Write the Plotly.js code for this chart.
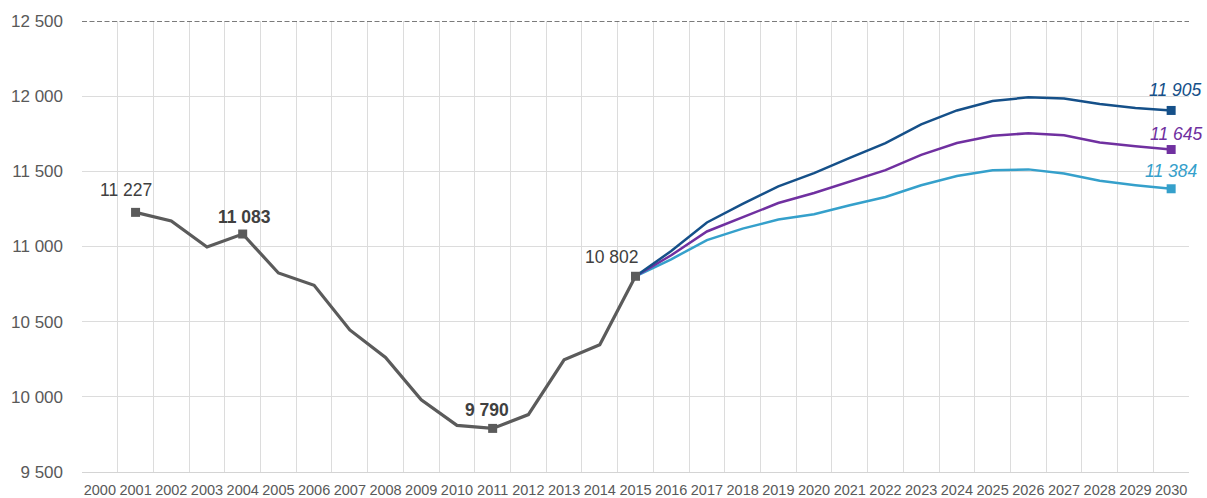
<!DOCTYPE html>
<html>
<head>
<meta charset="utf-8">
<script src="https://cdn.plot.ly/plotly-3.0.1.min.js"></script>
<style>
  html, body { margin: 0; padding: 0; background: #fff; }
  #chart { width: 1207px; height: 498px; }
</style>
</head>
<body>
<div id="chart"></div>
<script>
// Category axis: one band per year
const years = [2000, 2001, 2002, 2003, 2004, 2005, 2006, 2007, 2008, 2009, 2010,
               2011, 2012, 2013, 2014, 2015, 2016, 2017, 2018, 2019, 2020,
               2021, 2022, 2023, 2024, 2025, 2026, 2027, 2028, 2029, 2030];

// Observed values
const histYears = [2001, 2002, 2003, 2004, 2005, 2006, 2007, 2008, 2009, 2010,
                   2011, 2012, 2013, 2014, 2015];
const histValues = [11227, 11170, 10997, 11083, 10824, 10742, 10445, 10262, 9980, 9810,
                    9790, 9882, 10246, 10346, 10802];
// Years of the observed series that get a marker and a label
const histMarked = [2001, 2004, 2011, 2015];
const histBold = [2004, 2011];

// Projections 2015-2030
const projYears = [2015, 2016, 2017, 2018, 2019, 2020, 2021, 2022, 2023, 2024,
                   2025, 2026, 2027, 2028, 2029, 2030];
const projHigh = [10802, 10970, 11160, 11283, 11400, 11488, 11590, 11688, 11812, 11905,
                  11968, 11992, 11985, 11948, 11922, 11905];
const projMid  = [10802, 10942, 11100, 11196, 11289, 11356, 11430, 11508, 11610, 11688,
                  11737, 11753, 11740, 11692, 11667, 11645];
const projLow  = [10802, 10915, 11043, 11119, 11179, 11214, 11274, 11329, 11407, 11469,
                  11507, 11513, 11486, 11437, 11408, 11384];

// Value axis
const yMin = 9500, yMax = 12500, yStep = 500;

const colors = {
  hist: '#5b5b5b',
  high: '#155089',
  mid: '#7030a0',
  low: '#35a0cb'
};

const fontFamily = '"Liberation Sans", Arial, sans-serif';

function fmt(v) {
  return String(v).replace(/\B(?=(\d{3})+(?!\d))/g, ' ');
}

const markedValues = histMarked.map(y => histValues[histYears.indexOf(y)]);
const lastIdx = projYears.length - 1;

const traces = [
  { x: histYears, y: histValues, type: 'scatter', mode: 'lines',
    line: { color: colors.hist, width: 3.2 } },
  { x: projYears, y: projLow, type: 'scatter', mode: 'lines',
    line: { color: colors.low, width: 2.5 } },
  { x: projYears, y: projMid, type: 'scatter', mode: 'lines',
    line: { color: colors.mid, width: 2.5 } },
  { x: projYears, y: projHigh, type: 'scatter', mode: 'lines',
    line: { color: colors.high, width: 2.5 } },
  { x: histMarked, y: markedValues, type: 'scatter', mode: 'markers',
    marker: { symbol: 'square', size: 9, color: colors.hist } },
  { x: [projYears[lastIdx]], y: [projHigh[lastIdx]], type: 'scatter', mode: 'markers',
    marker: { symbol: 'square', size: 9, color: colors.high } },
  { x: [projYears[lastIdx]], y: [projMid[lastIdx]], type: 'scatter', mode: 'markers',
    marker: { symbol: 'square', size: 9, color: colors.mid } },
  { x: [projYears[lastIdx]], y: [projLow[lastIdx]], type: 'scatter', mode: 'markers',
    marker: { symbol: 'square', size: 9, color: colors.low } }
];

// Label offsets (pixels) for the observed markers
const histOffsets = {
  2001: [-10, 22],
  2004: [2, 17],
  2011: [-6, 18],
  2015: [-24, 19]
};

const annotations = [];
histMarked.forEach((yr, i) => {
  const v = markedValues[i];
  const bold = histBold.includes(yr);
  annotations.push({
    x: yr, y: v, xref: 'x', yref: 'y', showarrow: false,
    text: bold ? '<b>' + fmt(v) + '</b>' : fmt(v),
    xshift: histOffsets[yr][0], yshift: histOffsets[yr][1],
    font: { family: fontFamily, size: 17.5, color: '#404040' }
  });
});
[[projHigh, colors.high, 20, 4], [projMid, colors.mid, 16, 5], [projLow, colors.low, 18, 0]]
  .forEach(([arr, col, dy, dx]) => {
    annotations.push({
      x: projYears[lastIdx], y: arr[lastIdx], xref: 'x', yref: 'y', showarrow: false,
      text: '<i>' + fmt(arr[lastIdx]) + '</i>',
      xshift: dx, yshift: dy,
      font: { family: fontFamily, size: 17.5, color: col }
    });
  });

const xRange = [years[0] - 0.5, years[years.length - 1] + 0.5];
const bandEdges = years.map(y => y - 0.5).concat([years[years.length - 1] + 0.5]);

const layout = {
  width: 1207, height: 498,
  margin: { l: 82, r: 18, t: 21, b: 26 },
  paper_bgcolor: '#ffffff', plot_bgcolor: '#ffffff',
  showlegend: false,
  separators: ', ',
  font: { family: fontFamily, color: '#595959' },
  xaxis: {
    range: xRange, tickmode: 'array', tickvals: years, ticktext: years.map(String),
    showgrid: false, zeroline: false, ticks: '',
    showline: true, linecolor: '#d4d4d4', linewidth: 1.2,
    tickfont: { family: fontFamily, size: 14.5, color: '#595959' },
    ticklabelstandoff: 4
  },
  xaxis2: {
    overlaying: 'x', range: xRange, tickmode: 'array', tickvals: bandEdges,
    showticklabels: false, showgrid: true, gridcolor: '#dcdcdc', gridwidth: 1,
    zeroline: false, ticks: '', showline: false
  },
  yaxis: {
    range: [yMin, yMax], tickmode: 'linear', tick0: yMin, dtick: yStep,
    tickformat: ',d', showgrid: true, gridcolor: '#dcdcdc', gridwidth: 1,
    zeroline: false, ticks: '', showline: false,
    tickfont: { family: fontFamily, size: 17, color: '#595959' },
    ticklabelstandoff: 18
  },
  shapes: [{
    type: 'line', xref: 'paper', yref: 'y', x0: 0, x1: 1, y0: yMax, y1: yMax,
    line: { color: '#505050', width: 1.6, dash: '5px,2.5px' }
  }],
  annotations: annotations
};

// Invisible trace that anchors the band-edge grid axis
traces.unshift({ x: xRange, y: [yMin, yMin], xaxis: 'x2', yaxis: 'y', type: 'scatter',
  mode: 'lines', line: { width: 0 }, hoverinfo: 'skip' });

Plotly.newPlot('chart', traces, layout, { displayModeBar: false, staticPlot: true });
</script>
</body>
</html>
